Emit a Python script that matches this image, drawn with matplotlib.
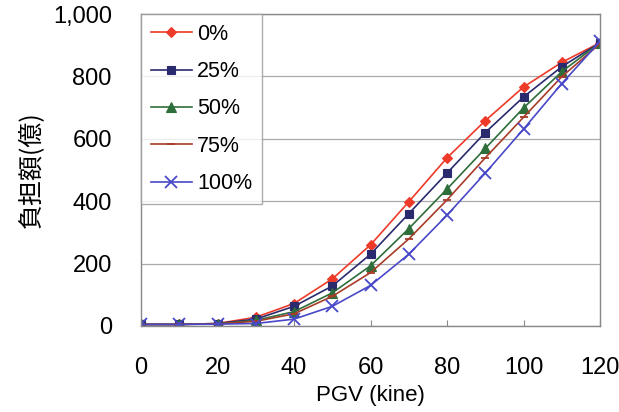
import matplotlib
matplotlib.use("Agg")
import matplotlib.pyplot as plt
from matplotlib.ticker import FuncFormatter

pgv = [0, 10, 20, 30, 40, 50, 60, 70, 80, 90, 100, 110, 120]
labels = ["0%", "25%", "50%", "75%", "100%"]
s0 = [5, 5, 8, 28, 72, 151, 260, 398, 539, 658, 766, 845, 908]
s25 = [5, 5, 8, 22, 63, 128, 230, 360, 490, 620, 734, 831, 908]
s50 = [5, 5, 7, 18, 46, 106, 193, 312, 439, 569, 699, 815, 908]
s75 = [5, 5, 7, 15, 39, 95, 171, 279, 404, 539, 669, 799, 905]
s100 = [5, 5, 6, 8, 22, 63, 130, 230, 355, 490, 631, 777, 912]

series = [s0, s25, s50, s75, s100]
colors = ["#EE3A28", "#2A2A6E", "#2E6E3A", "#A83C28", "#4848C8"]
markers = ["D", "s", "^", "_", "x"]
msizes = [5, 6, 7, 6, 9]

plt.rcParams["font.family"] = ["Liberation Sans", "Noto Sans CJK JP"]

fig = plt.figure(figsize=(6.19, 4.12), dpi=100)
ax = fig.add_axes([141 / 619, 86 / 412, 459 / 619, 312 / 412])

for vals, lab, c, m, ms in zip(series, labels, colors, markers, msizes):
    ax.plot(pgv, vals, color=c, marker=m, markersize=ms, lw=1.2,
            markeredgewidth=1.3 if m in ("x", "_") else 0.8, label=lab)

ax.set_xlim(0, 120)
ax.set_ylim(0, 1000)
ax.set_xticks(range(0, 121, 20))
ax.set_yticks(range(0, 1001, 200))
ax.yaxis.set_major_formatter(FuncFormatter(lambda v, p: f"{int(v):,}"))
ax.tick_params(axis="both", labelsize=17, direction="in", length=4, color="#888888")
ax.tick_params(axis="x", pad=22)
ax.tick_params(axis="y", length=0, pad=21)
ax.yaxis.grid(True, color="#aaaaaa", lw=0.9)
ax.set_axisbelow(True)
for sp in ax.spines.values():
    sp.set_color("#888888")
    sp.set_linewidth(1.0)

ax.set_xlabel("PGV (kine)", fontsize=16, labelpad=5)
ax.set_ylabel("負担額(億)", fontsize=18, labelpad=6,
              family=["Noto Sans CJK JP", "Liberation Sans"])

leg = ax.legend(loc="upper left", fontsize=15.5, frameon=True, fancybox=False,
                borderaxespad=0, handlelength=1.9, labelspacing=0.76,
                borderpad=0.45, handletextpad=0.25)
leg.get_frame().set_edgecolor("#999999")
leg.get_frame().set_linewidth(1.0)

fig.savefig("out.png", dpi=100)
